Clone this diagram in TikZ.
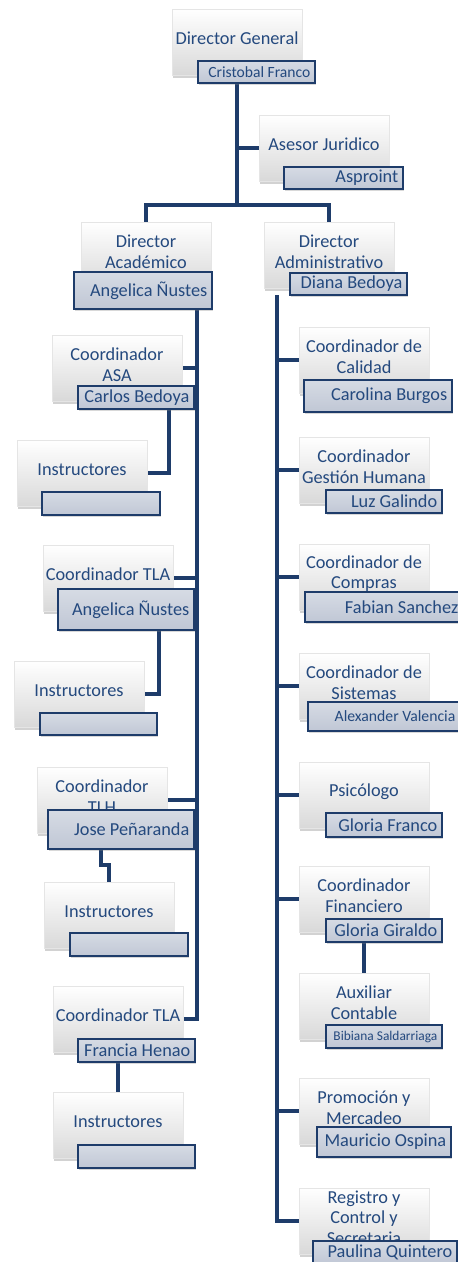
\documentclass[tikz,border=0pt]{standalone}
\usepackage{fontspec}
\setmainfont{Carlito}
\usetikzlibrary{shadows}
\pgfdeclarelayer{bg0}
\pgfdeclarelayer{background}
\pgfsetlayers{bg0,background,main}
\definecolor{navy}{HTML}{1E3C6A}
\definecolor{txtblue}{HTML}{24497E}
\definecolor{nfilltop}{HTML}{D6DBE4}
\definecolor{nfillbot}{HTML}{C0C7D5}
\tikzset{
 conn/.style={draw=navy, line width=4.5pt},
 rbox/.style={minimum width=130pt, minimum height=66pt, inner sep=0pt, outer sep=0pt,
   draw=black!10, top color=white, bottom color=black!15,
   drop shadow={opacity=0.35, shadow xshift=0.5pt, shadow yshift=-2.5pt}},
 rtext/.style={text=txtblue, font=\fontsize{18.3}{20.7}\selectfont, align=center, inner sep=0pt},
 nbox/.style={draw=navy, line width=1.3pt, top color=nfilltop, bottom color=nfillbot,
   inner sep=0pt, outer sep=0pt,
   drop shadow={opacity=0.3, shadow xshift=1pt, shadow yshift=-2pt}},
 ntext/.style={text=txtblue, inner sep=0pt, anchor=east, font=\fontsize{18.3}{20.7}\selectfont},
}
\newcommand\rolebox[4]{%
  \node[rbox] (#1) at (#2+65,#3+33) {};
  \node[rtext] (#1t) at (#2+65,#3+29.5) {#4};}
\newcommand\namebox[7][]{%
  \pgfmathsetlengthmacro\nbw{(#5-#3)*1pt}%
  \pgfmathsetlengthmacro\nbh{(#6-#4)*1pt}%
  \node[nbox, minimum width=\nbw, minimum height=\nbh] (#2) at ({(#3+#5)/2},{(#4+#6)/2}) {};
  \node[ntext, #1] (#2t) at ([xshift=-4.5pt]#2.east) {#7};}
\begin{document}
\begin{tikzpicture}[x=1pt,y=-1pt]
\useasboundingbox (0,0) rectangle (458,1262);
\clip (0,0) rectangle (458,1262);
\begin{pgfonlayer}{bg0}
\fill[white] (0,0) rectangle (458,1262);
\end{pgfonlayer}
% role boxes
\rolebox{dg}{172}{9}{Director General}
\rolebox{aj}{259}{115}{Asesor Juridico}
\rolebox{da}{81}{222}{Director\\Académico}
\rolebox{dad}{264}{222}{Director\\Administrativo}
\rolebox{asa}{52}{335}{Coordinador\\ASA}
\rolebox{ins1}{17}{440}{Instructores}
\rolebox{tla1}{43}{545}{Coordinador TLA}
\rolebox{ins2}{14}{661}{Instructores}
\rolebox{tlh}{37}{767}{Coordinador\\TLH}
\rolebox{ins3}{44}{882}{Instructores}
\rolebox{tla2}{53}{986}{Coordinador TLA}
\rolebox{ins4}{53}{1092}{Instructores}
\rolebox{cal}{299}{327}{Coordinador de\\Calidad}
\rolebox{gh}{299}{437}{Coordinador\\Gestión Humana}
\rolebox{com}{299}{544}{Coordinador de\\Compras}
\rolebox{sis}{299}{653}{Coordinador de\\Sistemas}
\rolebox{psi}{299}{762}{Psicólogo}
\rolebox{fin}{299}{866}{Coordinador\\Financiero}
\rolebox{aux}{299}{973}{Auxiliar\\Contable}
\rolebox{pro}{299}{1078}{Promoción y\\Mercadeo}
\rolebox{reg}{299}{1188}{Registro y\\Control y\\Secretaria}
% name boxes
\namebox[font=\fontsize{15.6}{18}\selectfont]{dgn}{198}{61}{315}{83}{Cristobal Franco}
\namebox{ajn}{284}{167}{403}{189}{Asproint}
\namebox{dan}{74}{272}{212}{309}{Angelica Ñustes}
\namebox{dadn}{290}{273}{407}{295}{Diana Bedoya}
\namebox{asan}{78}{386}{194}{409}{Carlos Bedoya}
\namebox{ins1n}{42}{492}{160}{515}{}
\namebox{tla1n}{58}{589}{194}{630}{Angelica Ñustes}
\namebox{ins2n}{40}{713}{157}{735}{}
\namebox{tlhn}{48}{810}{194}{849}{Jose Peñaranda}
\namebox{ins3n}{70}{933}{188}{956}{}
\namebox{tla2n}{78}{1039}{195}{1062}{Francia Henao}
\namebox{ins4n}{78}{1145}{195}{1168}{}
\namebox{caln}{304}{380}{452}{412}{Carolina Burgos}
\namebox{ghn}{326}{490}{442}{513}{Luz Galindo}
\namebox{comn}{305}{592}{463}{622}{Fabian Sanchez}
\namebox[font=\fontsize{15.7}{18}\selectfont]{sisn}{308}{702}{460}{731}{Alexander Valencia}
\namebox{psin}{326}{813}{442}{837}{Gloria Franco}
\namebox{finn}{326}{919}{442}{942}{Gloria Giraldo}
\namebox[font=\fontsize{13.4}{16}\selectfont]{auxn}{326}{1025}{442}{1048}{Bibiana Saldarriaga}
\namebox{pron}{317}{1127}{451}{1157}{Mauricio Ospina}
\namebox{regn}{313}{1241}{457}{1264}{Paulina Quintero}
% connectors
\coordinate (jtop) at (237,205);
\coordinate (lx) at (197,0);
\coordinate (rx) at (277,0);
\coordinate (c1) at (169,0);
\coordinate (c2) at (159,0);
\coordinate (c3) at (101,865);
\begin{pgfonlayer}{background}
\draw[conn] (dgn.south -| dg.south) -- (jtop);
\draw[conn] (aj.west) -- (aj.west -| jtop);
\draw[conn] (da.north) |- (jtop) -| (dad.north);
\draw[conn] (dan.south -| lx) |- (tla2.east);
\foreach \n in {asa,tla1,tlh} \draw[conn] (\n.east) -- (\n.east -| lx);
\draw[conn] (asan.south -| c1) |- (ins1.east);
\draw[conn] (tla1n.south -| c2) |- (ins2.east);
\draw[conn] (tlhn.south -| c3) -- (c3) -| (ins3.north);
\draw[conn] (tla2n.south -| ins4.north) -- (ins4.north);
\draw[conn] (dadn.south -| rx) |- (reg.west);
\foreach \n in {cal,gh,com,sis,psi,fin,pro} \draw[conn] (\n.west) -- (\n.west -| rx);
\draw[conn] (finn.south -| aux.north) -- (aux.north);
\end{pgfonlayer}
\end{tikzpicture}
\end{document}
